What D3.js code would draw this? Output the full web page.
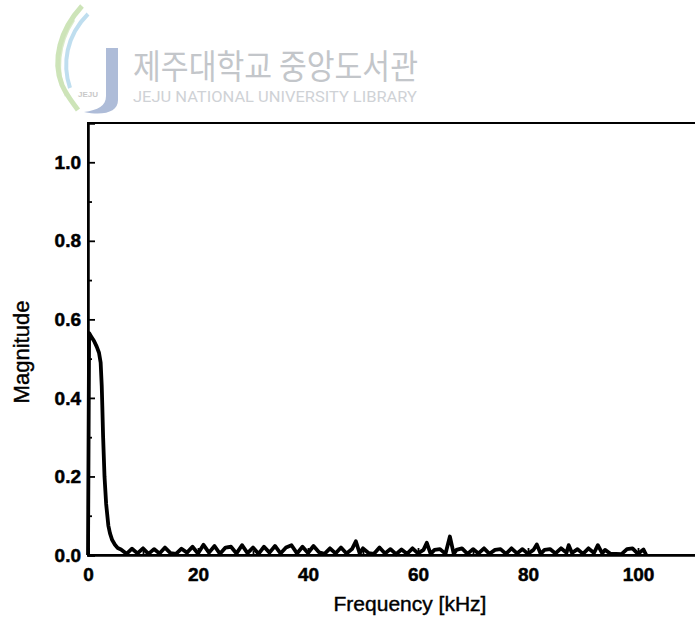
<!DOCTYPE html>
<meta charset="utf-8">
<head>
    <title>Magnitude spectrum</title>
    <script src="https://cdn.jsdelivr.net/npm/d3@7"></script>
</head>

<style>
    body { margin: 0; background: #fff; }
    .tick text { font-family: "Liberation Sans", Arial, sans-serif; font-weight: bold; font-size: 19px; fill: #000; stroke: #000; stroke-width: 0.5; }
    .axis path, .axis line { stroke: #000; }
    .axis path { stroke-width: 2.5; }
    .axis line { stroke-width: 1.8; }
</style>

<svg></svg>

<script>
    var vWidth = 695;
    var vHeight = 635;

    // main lobe of the spectrum (kHz, magnitude)
    var peakFreq = [0, 0.2, 0.6, 1.1, 1.6, 2.0, 2.3, 2.5, 2.6, 2.75, 3.0, 3.3, 3.7, 4.0, 4.4, 4.9, 5.4];
    var peakMag  = [0, 0.565, 0.556, 0.545, 0.53, 0.515, 0.49, 0.43, 0.38, 0.30, 0.20, 0.13, 0.075, 0.055, 0.038, 0.026, 0.018];

    // noise floor after the drop
    var noiseFreq = [6, 7, 8, 9, 10, 11, 12, 13, 14, 15, 16, 17, 18, 19, 20, 21, 22, 23, 24, 25,
                     26, 27, 28, 29, 30, 31, 32, 33, 34, 35, 36, 37, 38, 39, 40, 41, 42, 43, 44, 45,
                     46, 47, 48, 48.7, 49.4, 50, 51, 52, 53, 54, 55, 56, 57, 58, 59, 60, 61, 61.6, 62.3, 63,
                     64, 65, 65.8, 66.5, 67, 68, 69, 70, 71, 72, 73, 74, 75, 76, 77, 78, 79, 80, 81, 81.6,
                     82.3, 83, 84, 85, 86, 87, 87.4, 88, 89, 90, 91, 92, 92.7, 93.5, 94, 95, 96, 97, 98, 99,
                     100, 101, 101.5];
    var noiseMag  = [0.014, 0.003, 0.016, 0.004, 0.017, 0.003, 0.015, 0.004, 0.019, 0.005, 0.003, 0.016, 0.006, 0.021, 0.004, 0.026, 0.006, 0.023, 0.003, 0.019,
                     0.021, 0.004, 0.025, 0.005, 0.019, 0.003, 0.021, 0.006, 0.023, 0.004, 0.019, 0.025, 0.004, 0.021, 0.005, 0.023, 0.007, 0.003, 0.017, 0.004,
                     0.019, 0.004, 0.015, 0.035, 0.004, 0.017, 0.005, 0.003, 0.019, 0.004, 0.015, 0.002, 0.014, 0.003, 0.017, 0.004, 0.013, 0.031, 0.003, 0.013,
                     0.015, 0.003, 0.047, 0.003, 0.013, 0.017, 0.003, 0.015, 0.004, 0.017, 0.003, 0.013, 0.015, 0.003, 0.017, 0.004, 0.015, 0.003, 0.013, 0.027,
                     0.003, 0.013, 0.015, 0.004, 0.017, 0.006, 0.025, 0.005, 0.015, 0.003, 0.017, 0.005, 0.025, 0.004, 0.013, 0.003, 0.003, 0.002, 0.015, 0.017,
                     0.003, 0.014, 0.0];

    var xTicks = [0, 20, 40, 60, 80, 100];
    var yTicks = [0.0, 0.2, 0.4, 0.6, 0.8, 1.0];
    var yMinor = [0.1, 0.3, 0.5, 0.7, 0.9];
    var xMinor = [10, 30, 50, 70, 90];

    var svg = d3.select('svg')
        .attr('width', vWidth)
        .attr('height', vHeight);

    // watermark
    var wm = svg.append('g');
    wm.append('path')
        .attr('d', 'M82,6 C60,30 52,60 62,85 C68,98 74,104 78,110')
        .attr('fill', 'none').attr('stroke', '#bcdba0').attr('stroke-width', 5).attr('opacity', 0.75);
    wm.append('path')
        .attr('d', 'M88,14 C66,36 62,64 70,88')
        .attr('fill', 'none').attr('stroke', '#a9d3ea').attr('stroke-width', 4).attr('opacity', 0.75);
    wm.append('path')
        .attr('d', 'M74,20 C58,44 56,72 66,96')
        .attr('fill', 'none').attr('stroke', '#cde3b8').attr('stroke-width', 2.5).attr('opacity', 0.75);
    wm.append('path')
        .attr('d', 'M106,48 L118,48 L118,100 C118,112 104,116 84,112 C98,110 106,106 106,96 Z')
        .attr('fill', '#aebcd8');
    wm.append('text')
        .attr('x', 88).attr('y', 97)
        .attr('text-anchor', 'middle')
        .attr('font-family', 'Liberation Sans, sans-serif')
        .attr('font-size', 8).attr('font-weight', 'bold')
        .attr('fill', '#c9c9c9')
        .text('JEJU');
    wm.append('text')
        .attr('x', 133).attr('y', 79)
        .attr('font-family', 'Noto Sans CJK KR, sans-serif')
        .attr('font-size', 34)
        .attr('textLength', 285).attr('lengthAdjust', 'spacingAndGlyphs')
        .attr('fill', '#c3c6ca')
        .text('제주대학교 중앙도서관');
    wm.append('text')
        .attr('x', 133).attr('y', 102)
        .attr('font-family', 'Roboto, sans-serif')
        .attr('font-size', 14)
        .attr('textLength', 284).attr('lengthAdjust', 'spacingAndGlyphs')
        .attr('fill', '#cfd2d6')
        .text('JEJU NATIONAL UNIVERSITY  LIBRARY');

    // scales
    var x = d3.scaleLinear().domain([0, 120]).range([88, 748]);
    var y = d3.scaleLinear().domain([0, 1.1]).range([555, 123]);

    // frame
    svg.append('rect')
        .attr('x', x(0)).attr('y', y(1.1))
        .attr('width', x(120) - x(0)).attr('height', y(0) - y(1.1))
        .attr('fill', 'none').attr('stroke', '#000').attr('stroke-width', 2);

    // axes (ticks point inward)
    svg.append('g').attr('class', 'axis')
        .attr('transform', 'translate(0,' + y(0) + ')')
        .call(d3.axisBottom(x).tickValues(xTicks).tickSize(-7).tickPadding(13).tickFormat(d3.format('d')));
    svg.append('g').attr('class', 'axis')
        .attr('transform', 'translate(0,' + y(0) + ')')
        .call(d3.axisBottom(x).tickValues(xMinor).tickSize(-4).tickFormat(''))
        .select('.domain').remove();
    svg.append('g').attr('class', 'axis')
        .attr('transform', 'translate(' + x(0) + ',0)')
        .call(d3.axisLeft(y).tickValues(yTicks).tickSize(-7).tickPadding(7).tickFormat(d3.format('.1f')));
    svg.append('g').attr('class', 'axis')
        .attr('transform', 'translate(' + x(0) + ',0)')
        .call(d3.axisLeft(y).tickValues(yMinor).tickSize(-4).tickFormat(''))
        .select('.domain').remove();

    // spectrum line
    var pts = [];
    peakFreq.forEach(function (f, i) { pts.push([f, peakMag[i]]); });
    noiseFreq.forEach(function (f, i) { pts.push([f, noiseMag[i]]); });

    var line = d3.line()
        .x(function (d) { return x(d[0]); })
        .y(function (d) { return y(d[1]); });

    svg.append('path')
        .datum(pts)
        .attr('d', line)
        .attr('fill', 'none')
        .attr('stroke', '#000')
        .attr('stroke-width', 3.8)
        .attr('stroke-linejoin', 'round');

    // axis titles
    svg.append('text')
        .attr('x', 410).attr('y', 611)
        .attr('text-anchor', 'middle')
        .attr('font-family', 'Liberation Sans, Arial, sans-serif')
        .attr('font-size', 21)
        .attr('stroke', '#000').attr('stroke-width', 0.4)
        .text('Frequency [kHz]');
    svg.append('text')
        .attr('transform', 'translate(29,352) rotate(-90)')
        .attr('text-anchor', 'middle')
        .attr('font-family', 'Liberation Sans, Arial, sans-serif')
        .attr('font-size', 22)
        .attr('stroke', '#000').attr('stroke-width', 0.4)
        .text('Magnitude');
</script>
